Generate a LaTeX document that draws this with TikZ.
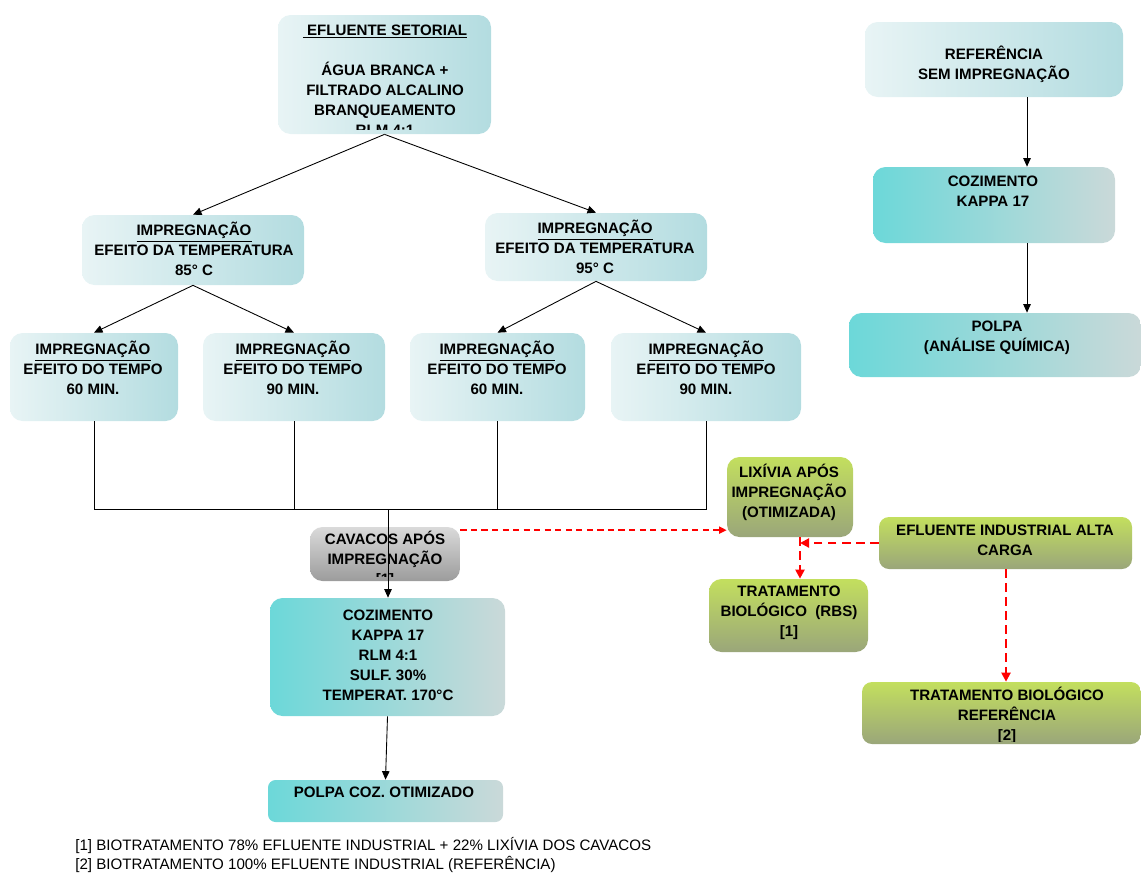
\documentclass[tikz,border=0pt]{standalone}
\usepackage{fontspec}
\usepackage{graphicx}
\setmainfont{Liberation Sans}
\usetikzlibrary{arrows.meta,calc,fit}

\definecolor{lightL}{HTML}{E8F4F5}
\definecolor{lightR}{HTML}{B3DCE0}
\definecolor{tealL}{HTML}{6CD8D9}
\definecolor{tealR}{HTML}{CAD9D9}
\definecolor{grayT}{HTML}{DADADA}
\definecolor{grayB}{HTML}{9C9C9C}
\definecolor{greenT}{HTML}{C3DF5E}
\definecolor{greenB}{HTML}{9AA67A}
\definecolor{redline}{HTML}{FF0000}

\tikzset{
  box/.style={rounded corners=0.25cm, inner sep=0pt},
  light/.style={box, left color=lightL, right color=lightR},
  teal/.style={box, left color=tealL, right color=tealR},
  grey/.style={box, top color=grayT, bottom color=grayB},
  green/.style={box, top color=greenT, bottom color=greenB},
  txt/.style={align=center, inner sep=0pt, font=\fontsize{8.6}{11.4}\selectfont\bfseries},
  arr/.style={-{Triangle[length=1.7mm,width=1.5mm]}, line width=0.5pt},
  redthin/.style={draw=redline, line width=0.9pt, dash pattern=on 3.5pt off 2.5pt, -{Triangle[length=1.5mm,width=1.4mm,fill=redline]}},
  redthick/.style={draw=redline, line width=1.2pt, dash pattern=on 5pt off 3pt, -{Triangle[length=1.8mm,width=1.8mm,fill=redline]}}
}

\begin{document}
\begin{tikzpicture}[x=0.02cm, y=-0.02cm]
\useasboundingbox (0,0) rectangle (1141,872);

% caixa de cima
\node[light, fit={(278,15) (491,134)}] (setorial) {};
\begin{scope}
  \clip (setorial.north west) rectangle ($(setorial.south east)+(0,-5)$);
  \node[txt] (setorialtxt) at (385,80) {\underline{\ EFLUENTE SETORIAL}\\ \mbox{}\\ ÁGUA BRANCA +\\ FILTRADO ALCALINO\\ BRANQUEAMENTO\\ RLM 4:1};
\end{scope}

% temperatura
\node[light, fit={(82,215) (304,285)}] (imp85) {};
\node[txt] (imp85txt) at (194,249) {\underline{IMPREGNAÇÃO}\\ EFEITO DA TEMPERATURA\\ 85° C};
\node[light, fit={(485,213) (707,281)}] (imp95) {};
\node[txt] (imp95txt) at (595,247) {\underline{IMPREGNAÇÃO}\\ EFEITO DA TEMPERATURA\\ 95° C};

% tempo
\node[light, fit={(10,333) (178,421)}] (tA) {};
\node[txt] (tAtxt) at (93,368) {\underline{IMPREGNAÇÃO}\\ EFEITO DO TEMPO\\ 60 MIN.};
\node[light, fit={(203,333) (385,421)}] (tB) {};
\node[txt] (tBtxt) at (293,368) {\underline{IMPREGNAÇÃO}\\ EFEITO DO TEMPO\\ 90 MIN.};
\node[light, fit={(410,333) (585,421)}] (tC) {};
\node[txt] (tCtxt) at (497,368) {\underline{IMPREGNAÇÃO}\\ EFEITO DO TEMPO\\ 60 MIN.};
\node[light, fit={(611,333) (801,421)}] (tD) {};
\node[txt] (tDtxt) at (706,368) {\underline{IMPREGNAÇÃO}\\ EFEITO DO TEMPO\\ 90 MIN.};

% cavacos e cozimento
\node[grey, fit={(310,527) (460,581)}] (cav) {};
\begin{scope}
  \clip (cav.north west) rectangle ($(cav.south east)+(0,-5)$);
  \node[txt] (cavtxt) at (385,559) {CAVACOS APÓS\\ IMPREGNAÇÃO\\ {[1]}};
\end{scope}
\node[teal, fit={(270,598) (505,716)}] (coz) {};
\node[txt] (coztxt) at (388,655) {COZIMENTO\\ KAPPA 17\\ RLM 4:1\\ SULF. 30\%\\ TEMPERAT. 170°C};
\node[teal, rounded corners=0.15cm, fit={(268,780) (503,822)}] (pcoz) {};
\node[txt] (pcoztxt) at (384,792) {POLPA COZ. OTIMIZADO};

% referencia
\node[light, fit={(865,22) (1123,97)}] (ref) {};
\node[txt] (reftxt) at (994,64) {REFERÊNCIA\\ SEM IMPREGNAÇÃO};
\node[teal, fit={(873,167) (1115,243)}] (cozR) {};
\node[txt] (cozRtxt) at (993,191) {COZIMENTO\\ KAPPA 17};
\node[teal, fit={(849,313) (1141,377)}] (polpa) {};
\node[txt] (polpatxt) at (997,338) {POLPA\\ (ANÁLISE QUÍMICA)};

% efluentes / tratamento
\node[green, fit={(727,457) (853,537)}] (lix) {};
\node[txt] (lixtxt) at (789,492) {LIXÍVIA APÓS\\ IMPREGNAÇÃO\\ (OTIMIZADA)};
\node[green, rounded corners=0.2cm, fit={(879,517) (1132,569)}] (efl) {};
\node[txt] (efltxt) at (1005,540) {EFLUENTE INDUSTRIAL ALTA\\ CARGA};
\node[green, fit={(709,579) (868,652)}] (rbs) {};
\node[txt] (rbstxt) at (789,613) {TRATAMENTO\\ BIOLÓGICO\ \ (RBS)\\ {[1]}};
\node[green, rounded corners=0.2cm, fit={(862,682) (1141,744)}] (trref) {};
\begin{scope}
  \clip (trref.north west) rectangle ($(trref.south east)+(0,-3)$);
  \node[txt] (trreftxt) at (1007,715) {TRATAMENTO BIOLÓGICO\\ REFERÊNCIA\\ {[2]}};
\end{scope}

% ligacoes
\draw[arr] (setorial.south) -- (imp85.north);
\draw[arr] (setorial.south) -- (imp95.north);
\draw[arr] (imp85.south) -- (tA.north);
\draw[arr] (imp85.south) -- (tB.north);
\draw[arr] (imp95.south) -- (tC.north);
\draw[arr] (imp95.south) -- (tD.north);

\coordinate (bus) at (388,509);
\draw[line width=0.5pt] (tA.south) |- (bus) -| (tD.south);
\draw[line width=0.5pt] (tB.south) -- (tB.south |- bus);
\draw[line width=0.5pt] (tC.south) -- (tC.south |- bus);
\draw[arr] (bus) -- (bus |- coz.north);
\draw[arr] (coz.south) -- (pcoz.north);

\coordinate (refout) at ($(ref.south)+(33,0)$);
\draw[arr] (refout) -- (refout |- cozR.north);
\draw[arr] (refout |- cozR.south) -- (refout |- polpa.north);

\coordinate (cavout) at ($(cav.north east)+(0,3.5)$);
\draw[redthin] (cavout) -- (cavout -| lix.west);
\coordinate (lixout) at ($(lix.south)+(10,0)$);
\draw[redthick] (efl.west) -- (efl.west -| lixout);
\draw[redthick] (lixout) -- (lixout |- rbs.north);
\coordinate (eflout) at (1006,569);
\draw[redthick] (eflout) -- (eflout |- trref.north);

% notas
\node[anchor=west, inner sep=0pt] (nota1) at (75,846) {\fontsize{8.6}{10}\selectfont [1] BIOTRATAMENTO 78\% EFLUENTE INDUSTRIAL + 22\% LIXÍVIA DOS CAVACOS};
\node[anchor=west, inner sep=0pt] (nota2) at (75,864) {\fontsize{8.6}{10}\selectfont [2] BIOTRATAMENTO 100\% EFLUENTE INDUSTRIAL (REFERÊNCIA)};
\end{tikzpicture}
\end{document}
